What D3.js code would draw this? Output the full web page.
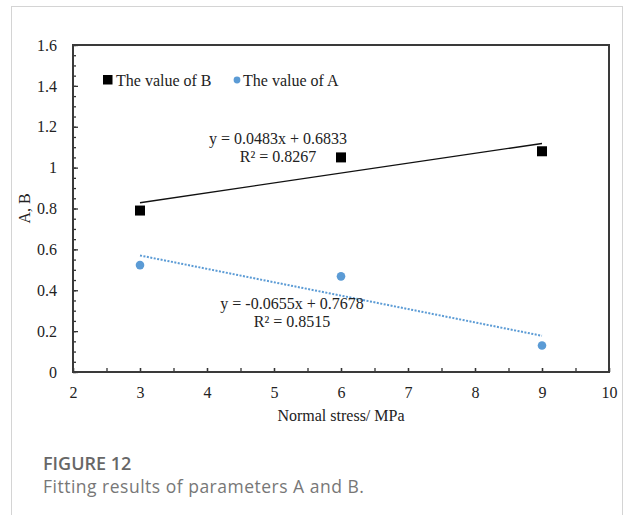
<!DOCTYPE html>
<html>
<head>
<meta charset="utf-8">
<script src="https://cdn.jsdelivr.net/npm/d3@7"></script>
<style>
  body { margin: 0; background: #fff; }
  svg text { font-family: "Liberation Serif", "Times New Roman", serif; }
  svg text.caption { font-family: "Open Sans", "Noto Sans", sans-serif; }
</style>
</head>
<body>
<div id="container"></div>
<script>
const WIDTH = 625;
const HEIGHT = 515;
const PLOT = { LEFT: 73, RIGHT: 609, TOP: 45, BOTTOM: 372 };
const SERIF = '"Liberation Serif", "Times New Roman", serif';

// data
const stress = [3, 6, 9];
const valuesB = [0.79, 1.05, 1.08];
const valuesA = [0.523, 0.468, 0.130];
const xTicks = [2, 3, 4, 5, 6, 7, 8, 9, 10];
const yTicks = [0, 0.2, 0.4, 0.6, 0.8, 1, 1.2, 1.4, 1.6];
const fitLabelsB = ['y = 0.0483x + 0.6833', 'R\u00b2 = 0.8267'];
const fitLabelsA = ['y = -0.0655x + 0.7678', 'R\u00b2 = 0.8515'];

const svg = d3.select('#container')
  .append('svg')
    .attr('width', WIDTH)
    .attr('height', HEIGHT);

// card border
svg.append('rect')
   .attr('x', 11.5).attr('y', 6.5)
   .attr('width', 611).attr('height', 530)
   .attr('fill', 'none')
   .attr('stroke', '#d4d4d4');

const x = d3.scaleLinear().domain([2, 10]).range([PLOT.LEFT, PLOT.RIGHT]);
const y = d3.scaleLinear().domain([0, 1.6]).range([PLOT.BOTTOM, PLOT.TOP]);

const minorY = d3.range(0, 1.6001, 0.05);
const minorX = d3.range(2, 10.001, 0.5);

// minor ticks
svg.append('g')
   .attr('transform', `translate(${PLOT.LEFT},0)`)
   .call(d3.axisLeft(y).tickValues(minorY).tickSize(-3).tickFormat(''))
   .call(g => g.select('.domain').remove())
   .selectAll('line').attr('stroke', '#333').attr('stroke-width', 1.3);

svg.append('g')
   .attr('transform', `translate(0,${PLOT.BOTTOM})`)
   .call(d3.axisBottom(x).tickValues(minorX).tickSize(-4).tickFormat(''))
   .call(g => g.select('.domain').remove())
   .selectAll('line').attr('stroke', '#333').attr('stroke-width', 1.3);

// major axes
const yAxis = svg.append('g')
   .attr('transform', `translate(${PLOT.LEFT},0)`)
   .call(d3.axisLeft(y).tickValues(yTicks).tickSize(-5).tickPadding(16).tickFormat(d3.format('')));

const xAxis = svg.append('g')
   .attr('transform', `translate(0,${PLOT.BOTTOM})`)
   .call(d3.axisBottom(x).tickValues(xTicks).tickSize(-4).tickPadding(15));

[yAxis, xAxis].forEach(ax => {
  ax.attr('font-family', SERIF).attr('font-size', 16);
  ax.select('.domain').remove();
  ax.selectAll('line').attr('stroke', '#333').attr('stroke-width', 1.3);
  ax.selectAll('text')
    .style('font-family', SERIF)
    .style('font-size', '16px')
    .attr('fill', '#222');
});

// plot frame
svg.append('rect')
   .attr('x', PLOT.LEFT).attr('y', PLOT.TOP)
   .attr('width', PLOT.RIGHT - PLOT.LEFT)
   .attr('height', PLOT.BOTTOM - PLOT.TOP)
   .attr('fill', 'none')
   .attr('stroke', '#3a3a3a')
   .attr('stroke-width', 2);

// axis titles
svg.append('text')
   .attr('transform', `translate(30,${(PLOT.TOP + PLOT.BOTTOM) / 2}) rotate(-90)`)
   .attr('text-anchor', 'middle')
   .attr('font-size', 16)
   .attr('fill', '#222')
   .text('A, B');

svg.append('text')
   .attr('x', (PLOT.LEFT + PLOT.RIGHT) / 2)
   .attr('y', 421)
   .attr('text-anchor', 'middle')
   .attr('font-size', 16)
   .attr('fill', '#222')
   .text('Normal stress/ MPa');

// least squares fit
const fit = (xs, ys) => {
  const mx = d3.mean(xs), my = d3.mean(ys);
  const slope = d3.sum(xs, (v, i) => (v - mx) * (ys[i] - my)) / d3.sum(xs, v => (v - mx) ** 2);
  return v => my + slope * (v - mx);
};
const fitB = fit(stress, valuesB);
const fitA = fit(stress, valuesA);
const xEnds = d3.extent(stress);

const line = f => d3.line().x(v => x(v)).y(v => y(f(v)))(xEnds);

svg.append('path')
   .attr('d', line(fitB))
   .attr('fill', 'none')
   .attr('stroke', '#111')
   .attr('stroke-width', 1.4);

svg.append('path')
   .attr('d', line(fitA))
   .attr('fill', 'none')
   .attr('stroke', '#5b9bd5')
   .attr('stroke-width', 2)
   .attr('stroke-dasharray', '2,1.5');

// markers
svg.selectAll('.markB')
   .data(stress)
   .enter()
   .append('rect')
   .attr('class', 'markB')
   .attr('x', d => x(d) - 5)
   .attr('y', (d, i) => y(valuesB[i]) - 5)
   .attr('width', 10)
   .attr('height', 10)
   .attr('fill', '#000');

svg.selectAll('.markA')
   .data(stress)
   .enter()
   .append('circle')
   .attr('class', 'markA')
   .attr('cx', d => x(d))
   .attr('cy', (d, i) => y(valuesA[i]))
   .attr('r', 4.3)
   .attr('fill', '#5b9bd5');

// fit equations
const eq = (labels, cx, top) => {
  svg.selectAll(null)
     .data(labels)
     .enter()
     .append('text')
     .attr('x', cx)
     .attr('y', (d, i) => top + i * 18)
     .attr('text-anchor', 'middle')
     .attr('font-size', 16)
     .attr('fill', '#222')
     .text(d => d);
};
eq(fitLabelsB, 278, 144);
eq(fitLabelsA, 292, 309);

// legend
svg.append('rect')
   .attr('x', 103).attr('y', 75)
   .attr('width', 9.5).attr('height', 9.5)
   .attr('fill', '#000');
svg.append('text')
   .attr('x', 116).attr('y', 85.5)
   .attr('font-size', 16)
   .attr('fill', '#222')
   .text('The value of B');
svg.append('circle')
   .attr('cx', 237).attr('cy', 80)
   .attr('r', 3.4)
   .attr('fill', '#5b9bd5');
svg.append('text')
   .attr('x', 243).attr('y', 85.5)
   .attr('font-size', 16)
   .attr('fill', '#222')
   .text('The value of A');

// caption
svg.append('text')
   .attr('class', 'caption')
   .attr('x', 43).attr('y', 470)
   .attr('font-size', 18)
   .attr('font-weight', 600)
   .attr('fill', '#676767')
   .text('FIGURE 12');
svg.append('text')
   .attr('class', 'caption')
   .attr('x', 43).attr('y', 493)
   .attr('font-size', 17.5)
   .attr('letter-spacing', 0.5)
   .attr('fill', '#777')
   .text('Fitting results of parameters A and B.');
</script>
</body>
</html>
